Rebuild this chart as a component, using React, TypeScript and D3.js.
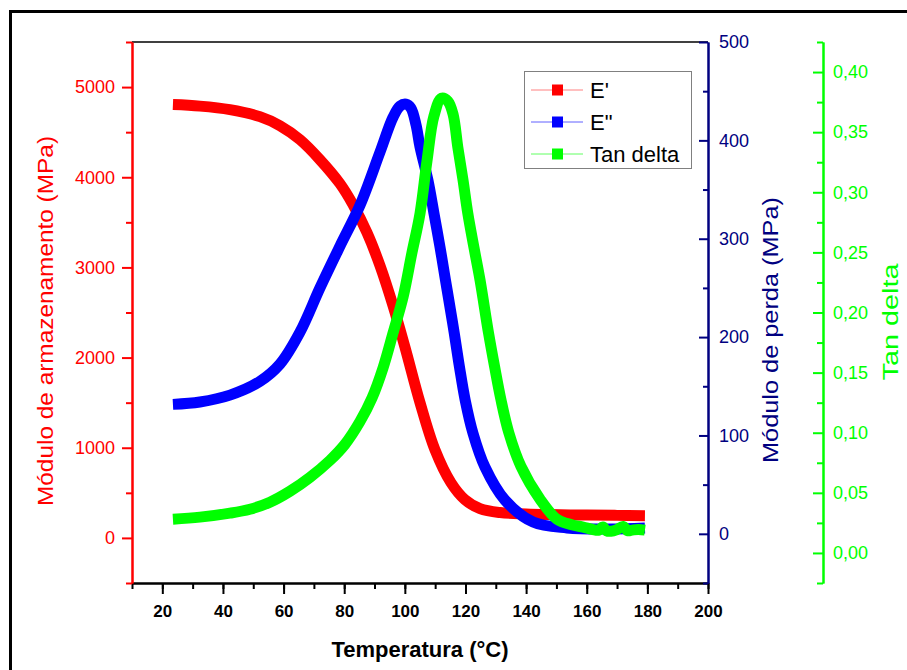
import React, { useEffect, useRef } from 'react'
import * as d3 from 'd3'

// E' (modulo de armazenamento), eixo esquerdo
const tempStorage = [23.5, 32.4, 42.3, 52.2, 58.8, 65.4, 72, 78.6, 82.9, 87.5, 91.8, 96.1, 100, 105, 109.9, 115.2, 119.8, 124.8, 131.4, 140, 147.9, 160, 170, 179.2]
const storageModulus = [4806, 4789, 4750, 4672, 4572, 4417, 4195, 3929, 3696, 3386, 3020, 2576, 2120, 1500, 980, 613, 425, 325, 281, 266, 259, 253, 250, 247]

// E'' (modulo de perda), eixo direito azul
const tempLoss = [23.5, 32.4, 42.3, 52.2, 58.8, 65.4, 72, 78.6, 85.2, 91.8, 96.1, 98.4, 100.4, 102, 103.7, 105, 107.6, 109.6, 111.6, 113.4, 114.5, 116.3, 118, 119.9, 122.5, 126.4, 133, 142.3, 153.5, 167.7, 179.2]
const lossModulus = [131.6, 134, 141, 155, 172.5, 205, 250, 292.5, 334, 388, 423.5, 434.8, 436.8, 432.9, 415.6, 393.3, 359.7, 326, 291.5, 258, 237.7, 204, 170, 136, 102, 68, 34.4, 12, 6, 5, 6]

// tan delta, eixo direito verde
const tempTan = [23.5, 32.4, 42.3, 48.9, 55.5, 62.1, 68.7, 75.3, 80.2, 85.2, 89.2, 92.8, 96.1, 99.4, 102.3, 105, 107.3, 109.6, 112.1, 114.2, 115.9, 117.5, 119.2, 120.8, 122.8, 124.8, 127.6, 129.6, 131.7, 134.3, 138.3, 144.6, 150.2, 155, 158.8, 162, 164, 165.3, 166.5, 168, 170, 172, 173.5, 175, 177, 179.2]
const tanDelta = [0.0281, 0.0298, 0.0331, 0.0364, 0.0422, 0.0513, 0.0629, 0.077, 0.0902, 0.1093, 0.1291, 0.1539, 0.1829, 0.2127, 0.2492, 0.2823, 0.326, 0.3634, 0.3783, 0.3758, 0.365, 0.337, 0.31, 0.282, 0.254, 0.227, 0.183, 0.155, 0.1275, 0.1, 0.072, 0.0447, 0.028, 0.0235, 0.0215, 0.0195, 0.019, 0.0215, 0.0185, 0.018, 0.0195, 0.022, 0.0185, 0.019, 0.0195, 0.019]

const legendNames = ["E'", 'E"', 'Tan delta']
const seriesColors = ['#ff0000', '#0000ff', '#00ff00']
const legendLineColors = ['#ff8080', '#6060ff', '#60ff60']

const xTicks = [20, 40, 60, 80, 100, 120, 140, 160, 180, 200]
const xMinor = d3.range(10, 201, 10)
const leftTicks = [0, 1000, 2000, 3000, 4000, 5000]
const leftMinor = d3.range(-500, 5501, 1000)
const blueTicks = [0, 100, 200, 300, 400, 500]
const blueMinor = [-50, 50, 150, 250, 350, 450]
const greenTicks = [0, 0.05, 0.1, 0.15, 0.2, 0.25, 0.3, 0.35, 0.4]
const greenMinor = [-0.025, 0.025, 0.075, 0.125, 0.175, 0.225, 0.275, 0.325, 0.375, 0.425]

const FONT = '"Liberation Sans", Arial, sans-serif'
const NAVY = '#000080'

const App = () => {
  const ref = useRef<SVGSVGElement>(null)

  useEffect(() => {
    draw()
  }, [])

  const draw = () => {
    const svg = d3.select(ref.current)
    svg.selectAll('*').remove()

    const left = 132, right = 708, top = 42, bottom = 583
    const greenX = 823

    const x = d3.scaleLinear().domain([10, 200]).range([left, right])
    const yL = d3.scaleLinear().domain([-500, 5500]).range([bottom, top])
    const yB = d3.scaleLinear().domain([-50, 500]).range([bottom, top])
    const yG = d3.scaleLinear().domain([-0.025, 0.425]).range([bottom, top])

    svg.append('rect').attr('width', 907).attr('height', 670).attr('fill', '#ffffff')
    // moldura externa
    svg.append('rect')
      .attr('x', 10.5).attr('y', 11.5).attr('width', 1000).attr('height', 1000)
      .attr('fill', 'none').attr('stroke', '#000').attr('stroke-width', 3)

    // linha do topo
    svg.append('line')
      .attr('x1', left).attr('x2', right).attr('y1', top).attr('y2', top)
      .attr('stroke', '#000').attr('stroke-width', 1.5)

    // curvas
    const series = [
      { t: tempStorage, v: storageModulus, y: yL },
      { t: tempLoss, v: lossModulus, y: yB },
      { t: tempTan, v: tanDelta, y: yG }
    ]
    series.forEach((s, i) => {
      const line = d3.line<number>()
        .x((d, j) => x(s.t[j]))
        .y(d => s.y(d))
        .curve(d3.curveCatmullRom.alpha(0.5))
      svg.append('path')
        .attr('d', line(s.v))
        .attr('fill', 'none')
        .attr('stroke', seriesColors[i])
        .attr('stroke-width', 11)
        .attr('stroke-linejoin', 'round')
    })

    const style = (g, color, size, weight = 'normal') => {
      g.selectAll('path').attr('stroke', color).attr('stroke-width', 2)
      g.selectAll('line').attr('stroke', color).attr('stroke-width', 2)
      g.selectAll('text')
        .attr('fill', color)
        .attr('font-family', FONT)
        .attr('font-size', size)
        .attr('font-weight', weight)
    }

    // eixo x
    const gxm = svg.append('g').attr('transform', `translate(0,${bottom})`)
      .call(d3.axisBottom(x).tickValues(xMinor).tickSize(6).tickSizeOuter(0).tickFormat(() => ''))
    style(gxm, '#000', 17)
    const gx = svg.append('g').attr('transform', `translate(0,${bottom})`)
      .call(d3.axisBottom(x).tickValues(xTicks).tickSize(11).tickSizeOuter(0).tickPadding(11).tickFormat(d3.format('d')))
    style(gx, '#000', 17, 'bold')

    // eixo esquerdo
    const glm = svg.append('g').attr('transform', `translate(${left},0)`)
      .call(d3.axisLeft(yL).tickValues(leftMinor).tickSize(6).tickSizeOuter(0).tickFormat(() => ''))
    style(glm, '#ff0000', 18)
    const gl = svg.append('g').attr('transform', `translate(${left},0)`)
      .call(d3.axisLeft(yL).tickValues(leftTicks).tickSize(10).tickSizeOuter(0).tickPadding(7).tickFormat(d3.format('d')))
    style(gl, '#ff0000', 18)

    // eixo azul
    const gbm = svg.append('g').attr('transform', `translate(${right},0)`)
      .call(d3.axisRight(yB).tickValues(blueMinor).tickSize(-5).tickSizeOuter(0).tickFormat(() => ''))
    style(gbm, NAVY, 18)
    const gb = svg.append('g').attr('transform', `translate(${right},0)`)
      .call(d3.axisRight(yB).tickValues(blueTicks).tickSize(-9).tickSizeOuter(0).tickPadding(11).tickFormat(d3.format('d')))
    style(gb, NAVY, 18)

    // eixo verde
    const ggm = svg.append('g').attr('transform', `translate(${greenX},0)`)
      .call(d3.axisRight(yG).tickValues(greenMinor).tickSize(-6).tickSizeOuter(0).tickFormat(() => ''))
    style(ggm, '#00ff00', 18)
    const gg = svg.append('g').attr('transform', `translate(${greenX},0)`)
      .call(d3.axisRight(yG).tickValues(greenTicks).tickSize(-10).tickSizeOuter(0).tickPadding(10)
        .tickFormat(d => d3.format('.2f')(d).replace('.', ',')))
    style(gg, '#00ff00', 18)

    // titulos
    svg.append('text')
      .attr('x', (left + right) / 2).attr('y', 657)
      .attr('text-anchor', 'middle')
      .attr('font-family', FONT).attr('font-size', 22).attr('font-weight', 'bold')
      .text('Temperatura (°C)')

    const vTitle = (tx, ty, txt, color, len) => {
      svg.append('text')
        .attr('transform', `translate(${tx},${ty}) rotate(-90)`)
        .attr('text-anchor', 'middle')
        .attr('font-family', FONT).attr('font-size', 22)
        .attr('fill', color)
        .attr('textLength', len).attr('lengthAdjust', 'spacingAndGlyphs')
        .text(txt)
    }
    vTitle(53, 321, 'Módulo de armazenamento (MPa)', '#ff0000', 370)
    vTitle(778, 330, 'Módulo de perda (MPa)', NAVY, 266)
    vTitle(898, 322, 'Tan delta', '#00ff00', 117)

    // legenda
    const lg = svg.append('g')
    lg.append('rect')
      .attr('x', 524.5).attr('y', 71.5).attr('width', 167).attr('height', 97)
      .attr('fill', '#fff').attr('stroke', '#808080').attr('stroke-width', 1)
    legendNames.forEach((name, i) => {
      const cy = 90 + i * 32
      lg.append('line')
        .attr('x1', 531).attr('x2', 583).attr('y1', cy).attr('y2', cy)
        .attr('stroke', legendLineColors[i]).attr('stroke-width', 1)
      lg.append('rect')
        .attr('x', 552).attr('y', cy - 5.5).attr('width', 11).attr('height', 11)
        .attr('fill', seriesColors[i])
      lg.append('text')
        .attr('x', 590).attr('y', cy + 8)
        .attr('font-family', FONT).attr('font-size', 22)
        .text(name)
    })
  }

  return (
    <div style={{ position: 'absolute', left: 0, top: 0 }}>
      <svg ref={ref} width={907} height={670} style={{ display: 'block' }} />
    </div>
  )
}

export default App
